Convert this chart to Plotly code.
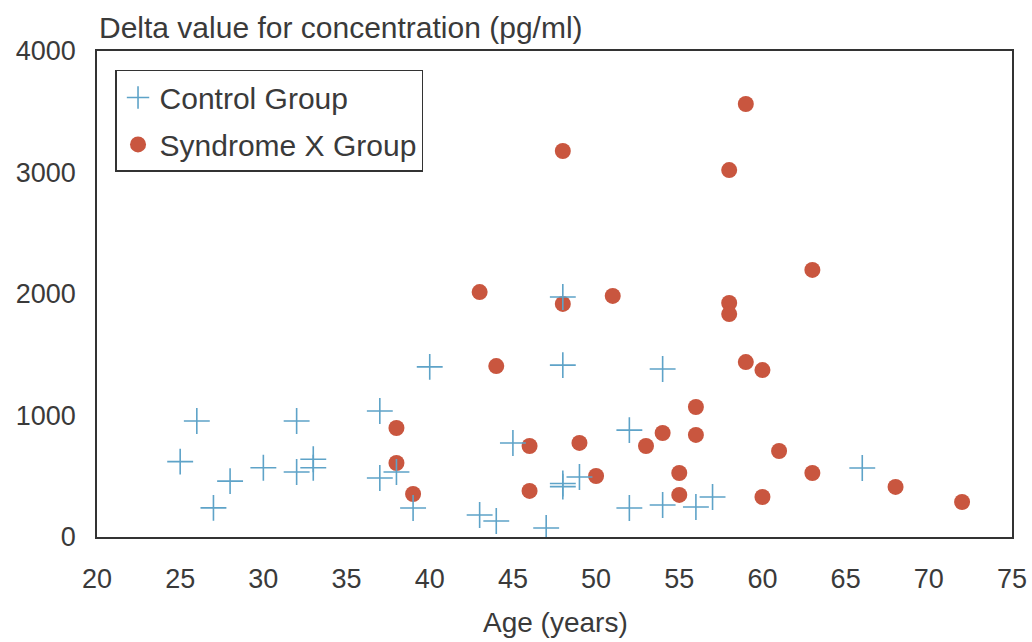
import plotly.graph_objects as go

control_age = [25, 26, 27, 28, 30, 32, 32, 33, 33, 37, 37, 38, 39, 40, 43, 44, 45, 47,
               48, 48, 48, 48, 49, 52, 52, 54, 54, 56, 57, 66]
control_val = [620, 955, 240, 460, 570, 955, 535, 640, 570, 1037, 486, 535, 239, 1400, 181, 132, 774, 74,
               1975, 1415, 440, 415, 494, 880, 239, 1383, 263, 247, 329, 568]

syndrome_age = [38, 38, 39, 43, 44, 46, 46, 48, 48, 49, 50, 51, 53, 54, 55, 55, 56, 56,
                58, 58, 58, 59, 59, 60, 60, 61, 63, 63, 68, 72]
syndrome_val = [897, 609, 354, 2016, 1407, 749, 379, 3177, 1918, 774, 502, 1984, 749, 856, 527, 346, 1070, 840,
                3020, 1926, 1835, 3564, 1440, 1374, 329, 708, 2198, 527, 412, 288]

x_ticks = [20, 25, 30, 35, 40, 45, 50, 55, 60, 65, 70, 75]
y_ticks = [0, 1000, 2000, 3000, 4000]

TXT = "#3a3a3a"
FONT = "Liberation Sans"

fig = go.Figure()
fig.add_trace(go.Scatter(
    x=syndrome_age, y=syndrome_val, mode="markers", name="Syndrome X Group",
    legendrank=2, legendgroup="s",
    marker=dict(symbol="circle", size=16, color="#c9563f", line=dict(width=0)),
))
fig.add_trace(go.Scatter(
    x=control_age, y=control_val, mode="markers", name="Control Group",
    legendrank=1, legendgroup="c",
    marker=dict(symbol="cross-thin", size=18.5, color="#5ea3c8",
                line=dict(width=1.6, color="#5ea3c8")),
))

fig.update_layout(
    width=1032, height=642,
    margin=dict(l=97, r=20, t=51, b=105, autoexpand=False),
    paper_bgcolor="white", plot_bgcolor="white",
    font=dict(family=FONT, size=28, color=TXT),
    showlegend=True,
    legend=dict(x=0.0197, y=0.961, xanchor="left", yanchor="top",
                bordercolor="#333333", borderwidth=1.5, bgcolor="white",
                font=dict(family=FONT, size=30, color=TXT),
                itemwidth=33, tracegroupgap=5, traceorder="grouped"),
    xaxis=dict(range=[20, 75], tickvals=x_ticks, ticktext=[str(v) for v in x_ticks],
               showgrid=False, zeroline=False, showline=True, mirror=True, automargin=False,
               linecolor="#333333", linewidth=1.5, ticks="", ticklabelstandoff=17,
               tickfont=dict(family=FONT, size=27, color=TXT)),
    yaxis=dict(range=[0, 4000], tickvals=y_ticks, ticktext=[str(v) for v in y_ticks],
               showgrid=False, zeroline=False, showline=True, mirror=True, automargin=False,
               linecolor="#333333", linewidth=1.5, ticks="", ticklabelstandoff=14,
               tickfont=dict(family=FONT, size=27, color=TXT)),
    annotations=[
        dict(text="Delta value for concentration (pg/ml)", xref="paper", yref="paper",
             x=0, y=1, xanchor="left", yanchor="bottom", yshift=5, showarrow=False,
             font=dict(family=FONT, size=30, color=TXT)),
        dict(text="Age (years)", xref="paper", yref="paper",
             x=(555 - 97) / 915, y=0, xanchor="center", yanchor="bottom", yshift=-103,
             showarrow=False, font=dict(family=FONT, size=28, color=TXT)),
    ],
)

fig.write_html("out.html")
